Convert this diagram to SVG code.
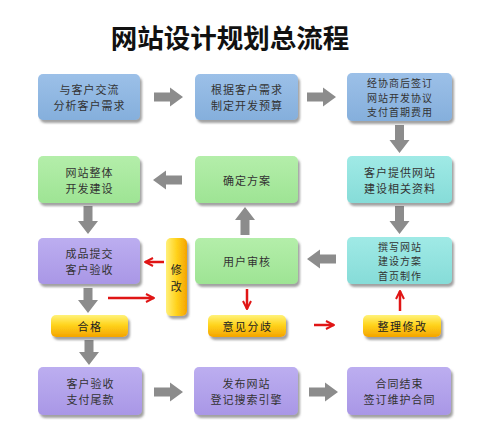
<svg xmlns="http://www.w3.org/2000/svg" width="499" height="434" viewBox="0 0 499 434">
<defs>
<filter id="sh" x="-10%" y="-10%" width="125%" height="135%">
<feDropShadow dx="2" dy="3" stdDeviation="1.3" flood-color="#555" flood-opacity="0.55"/>
</filter>
<linearGradient id="gBlue" x1="0" y1="0" x2="0" y2="1"><stop offset="0" stop-color="#9cc0e8"/><stop offset="1" stop-color="#85afdc"/></linearGradient>
<linearGradient id="gGreen" x1="0" y1="0" x2="0" y2="1"><stop offset="0" stop-color="#b4eeaa"/><stop offset="1" stop-color="#9ee494"/></linearGradient>
<linearGradient id="gTeal" x1="0" y1="0" x2="0" y2="1"><stop offset="0" stop-color="#a0eae6"/><stop offset="1" stop-color="#86dcd8"/></linearGradient>
<linearGradient id="gPurple" x1="0" y1="0" x2="0" y2="1"><stop offset="0" stop-color="#bcaef0"/><stop offset="1" stop-color="#a997e6"/></linearGradient>
<linearGradient id="gYellow" x1="0" y1="0" x2="0" y2="1"><stop offset="0" stop-color="#fff27a"/><stop offset="0.45" stop-color="#ffd41c"/><stop offset="1" stop-color="#f4a400"/></linearGradient>
<linearGradient id="gYellowV" x1="0" y1="0" x2="1" y2="0"><stop offset="0" stop-color="#fff07a"/><stop offset="0.5" stop-color="#ffd21c"/><stop offset="1" stop-color="#f4a400"/></linearGradient>
<marker id="ra" viewBox="0 0 10 10" refX="9" refY="5" markerWidth="4" markerHeight="4" orient="auto" markerUnits="strokeWidth">
<path d="M1,1 L9,5 L1,9" fill="none" stroke="#e01515" stroke-width="2"/>
</marker>
</defs>
<style>
.t{font-family:"Noto Sans CJK SC","Noto Sans",sans-serif;font-size:11px;letter-spacing:1px;fill:#333;text-anchor:middle;dominant-baseline:central;}
.s{font-size:10px;letter-spacing:1px;}
.p{font-size:11px;letter-spacing:1.5px;fill:#222;}
.box{filter:url(#sh);}
.blue{fill:url(#gBlue);}
.green{fill:url(#gGreen);}
.teal{fill:url(#gTeal);}
.purple{fill:url(#gPurple);}
.yel{fill:url(#gYellow);filter:url(#sh);}
.ga{fill:#8c8c8c;}
.red{stroke:#e01515;stroke-width:2.5;fill:none;marker-end:url(#ra);}
.title{font-family:"Noto Sans CJK SC","Noto Sans",sans-serif;font-size:26.5px;font-weight:700;fill:#111;text-anchor:middle;}
</style>
<rect width="499" height="434" fill="#fff"/>
<text class="title" x="230" y="48">网站设计规划总流程</text>

<g id="connectors">
<polygon class="ga" points="154,92.5 170,92.5 170,87.5 183,97 170,106.5 170,101.5 154,101.5"/>
<polygon class="ga" points="307,92.5 323,92.5 323,87.5 336,97 323,106.5 323,101.5 307,101.5"/>
<polygon class="ga" points="154,387.5 170,387.5 170,382.5 183,392 170,401.5 170,396.5 154,396.5"/>
<polygon class="ga" points="309,387.5 325,387.5 325,382.5 338,392 325,401.5 325,396.5 309,396.5"/>
<polygon class="ga" points="182,175.5 166,175.5 166,170.5 153,180 166,189.5 166,184.5 182,184.5"/>
<polygon class="ga" points="336,254.5 320,254.5 320,249.5 307,259 320,268.5 320,263.5 336,263.5"/>
<polygon class="ga" points="395,125 404,125 404,140 409.5,140 399.5,153 389.5,140 395,140"/>
<polygon class="ga" points="395,206 404,206 404,221 409.5,221 399.5,234 389.5,221 395,221"/>
<polygon class="ga" points="83.5,206 92.5,206 92.5,221 98,221 88,234 78,221 83.5,221"/>
<polygon class="ga" points="83.5,288 92.5,288 92.5,300 98,300 88,313 78,300 83.5,300"/>
<polygon class="ga" points="84.5,340 93.5,340 93.5,352 99,352 89,365 79,352 84.5,352"/>
<polygon class="ga" points="240.5,235 249.5,235 249.5,220 255,220 245,207 235,220 240.5,220"/>
<line class="red" x1="164" y1="262" x2="145" y2="262"/>
<line class="red" x1="108" y1="298" x2="154" y2="298"/>
<line class="red" x1="247" y1="289" x2="247" y2="309"/>
<line class="red" x1="314" y1="325" x2="334" y2="325"/>
<line class="red" x1="400" y1="311" x2="400" y2="291"/>
</g>

<g id="n1"><rect class="box blue" x="38" y="74" width="102" height="46" rx="5"/>
<text class="t" x="89.5" y="89">与客户交流</text><text class="t" x="89.5" y="105">分析客户需求</text></g>
<g id="n2"><rect class="box blue" x="195" y="74" width="103" height="46" rx="5"/>
<text class="t" x="247" y="89">根据客户需求</text><text class="t" x="247" y="105">制定开发预算</text></g>
<g id="n3"><rect class="box blue" x="347" y="73" width="105" height="48" rx="5"/>
<text class="t s" x="400" y="82.5">经协商后签订</text><text class="t s" x="400" y="97">网站开发协议</text><text class="t s" x="400" y="111.5">支付首期费用</text></g>

<g id="n4"><rect class="box green" x="38" y="156" width="102" height="47" rx="5"/>
<text class="t" x="89.5" y="172">网站整体</text><text class="t" x="89.5" y="188">开发建设</text></g>
<g id="n5"><rect class="box green" x="195" y="156" width="103" height="47" rx="5"/>
<text class="t" x="247" y="180">确定方案</text></g>
<g id="n6"><rect class="box teal" x="347" y="156" width="105" height="47" rx="5"/>
<text class="t" x="400" y="172">客户提供网站</text><text class="t" x="400" y="188">建设相关资料</text></g>

<g id="n7"><rect class="box purple" x="38" y="238" width="102" height="46" rx="5"/>
<text class="t" x="89.5" y="253">成品提交</text><text class="t" x="89.5" y="269">客户验收</text></g>
<g id="n8"><rect x="166" y="238" width="21" height="78" rx="5" style="fill:url(#gYellowV);filter:url(#sh)"/>
<text class="t p" x="177" y="269">修</text><text class="t p" x="177" y="286">改</text></g>
<g id="n9"><rect class="box green" x="195" y="238" width="103" height="46" rx="5"/>
<text class="t" x="247" y="261">用户审核</text></g>
<g id="n10"><rect class="box teal" x="347" y="237" width="105" height="47" rx="5"/>
<text class="t s" x="400" y="246">撰写网站</text><text class="t s" x="400" y="260.5">建设方案</text><text class="t s" x="400" y="275">首页制作</text></g>

<g id="n11"><rect class="yel" x="51" y="315" width="77" height="22" rx="5"/>
<text class="t p" x="90" y="326">合格</text></g>
<g id="n12"><rect class="yel" x="208" y="315" width="78" height="22" rx="5"/>
<text class="t p" x="247.5" y="326">意见分歧</text></g>
<g id="n13"><rect class="yel" x="363" y="315" width="78" height="22" rx="5"/>
<text class="t p" x="402.5" y="326">整理修改</text></g>

<g id="n14"><rect class="box purple" x="38" y="367" width="104" height="48" rx="5"/>
<text class="t" x="90.5" y="383">客户验收</text><text class="t" x="90.5" y="399">支付尾款</text></g>
<g id="n15"><rect class="box purple" x="194" y="367" width="104" height="48" rx="5"/>
<text class="t" x="246.5" y="383">发布网站</text><text class="t" x="246.5" y="399">登记搜索引擎</text></g>
<g id="n16"><rect class="box purple" x="347" y="367" width="104" height="48" rx="5"/>
<text class="t" x="399.5" y="383">合同结束</text><text class="t" x="399.5" y="399">签订维护合同</text></g>
</svg>
